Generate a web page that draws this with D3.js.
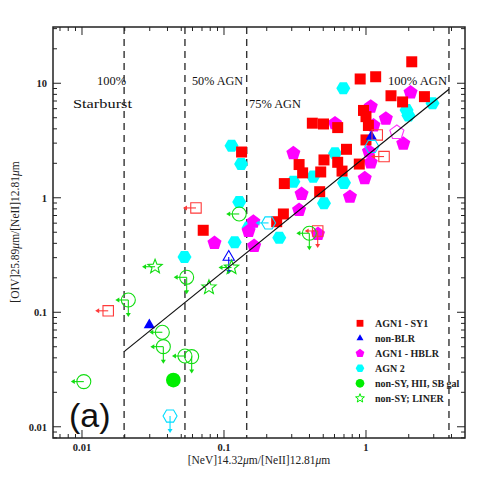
<!DOCTYPE html>
<html><head><meta charset="utf-8">
<script src="https://cdn.jsdelivr.net/npm/d3@7"></script>
<style>body{margin:0;background:#fff}</style>
</head><body><svg id="c" width="491" height="491"></svg>
<script>
// ---- data ----
const xTickLabels = [0.01, 0.1, 1];
const yTickLabels = [0.01, 0.1, 1, 10];
const xDomain = [0.00625, 4.98];
const yDomain = [0.00798, 31.0];
const agnFractionLines = [0.0198, 0.0531, 0.1445, 3.84];
const fitLine = [[0.0198, 0.0453], [3.84, 8.87]];

// AGN1 - SY1 (filled red squares)
const sy1 = [[2.10,15.4],[0.91,10.9],[1.17,11.4],[1.50,7.78],[1.81,6.87],[2.58,7.64],
  [0.96,5.79],[1.00,5.11],[1.04,4.28],[1.00,3.20],[0.419,4.48],[0.502,4.41],[0.632,4.10],
  [0.729,2.65],[0.338,1.95],[0.358,1.65],[0.506,2.14],[0.480,1.68],[0.632,2.04],[0.678,1.71],
  [0.897,1.97],[0.266,1.33],[0.472,1.13],[0.262,0.722],[0.235,0.618],[0.133,2.51],[0.0714,0.520]];
// SY1 limits (open red squares): [x, y, arrows]
const sy1Lim = [[0.0635,0.815,"l"],[0.0153,0.103,"l"],[1.20,3.54,""],[1.34,2.29,"l"],[0.457,0.513,"ld"]];
// non-BLR (blue triangles)
const nonBlr = [[1.09,3.43],[0.0298,0.0775]];
const nonBlrLim = [[0.108,0.304,"d"]];
// AGN1 - HBLR (magenta pentagons)
const hblr = [[2.06,8.31],[1.08,6.25],[1.38,4.91],[1.13,4.28],[1.83,2.97],[0.308,2.45],
  [0.605,4.47],[1.05,2.53],[1.08,2.03],[0.98,1.48],[0.771,1.02],[0.352,1.08],[0.338,0.782],
  [0.161,0.618],[0.149,0.513],[0.0857,0.403],[0.163,0.379],[0.459,0.483]];
const hblrLim = [[1.65,3.72,""]];
// AGN 2 (cyan hexagons)
const agn2 = [[0.692,9.04],[1.93,5.84],[1.99,5.23],[2.94,6.69],[0.605,2.45],[0.425,1.53],
  [0.308,1.38],[0.700,1.35],[0.506,0.895],[0.113,2.85],[0.132,1.97],[0.128,0.919],
  [0.0527,0.304],[0.119,0.409],[0.149,0.548],[0.245,0.448]];
const agn2Lim = [[0.206,0.603,"l"],[0.0417,0.0124,"d"],[1.10,2.81,""]];
// non-SY, HII, SB gal (green circles)
const hii = [[0.0440,0.0256]];
const hiiLim = [[0.128,0.722,"l"],[0.0212,0.128,"ld"],[0.0546,0.202,"ld"],[0.0368,0.0669,"l"],
  [0.0374,0.0501,"ld"],[0.0531,0.0415,"l"],[0.0592,0.0410,"d"],[0.0103,0.0248,"l"],[0.399,0.490,"ld"]];
// non-SY; LINER (open green stars)
const liner = [[0.0327,0.250,"l"],[0.0784,0.165,""],[0.113,0.246,"l"]];

const legendLabels = ["AGN1 - SY1","non-BLR","AGN1 - HBLR","AGN 2","non-SY, HII, SB gal","non-SY; LINER"];
const legendColors = ["#ff0000","#0000ff","#ff00ff","#00ffff","#00ee00","#00ee00"];
const legendShapes = ["square","triangle","pentagon","hexagon","circle","star"];

// ---- drawing ----
const svg = d3.select("#c");
const L=53, R=465, T=27, B=438;
const x = d3.scaleLog().domain(xDomain).range([L,R]);
const y = d3.scaleLog().domain(yDomain).range([B,T]);
const serif = "'Liberation Serif','Times New Roman',serif";

function poly(n, r, rot){
  const pts=[];
  for(let k=0;k<n;k++){const a=(rot+k*360/n)*Math.PI/180;pts.push([r*Math.cos(a),r*Math.sin(a)]);}
  return "M"+pts.map(p=>p[0].toFixed(2)+","+p[1].toFixed(2)).join("L")+"Z";
}
function star(ro, ri){
  const pts=[];
  for(let k=0;k<10;k++){const r=k%2?ri:ro;const a=(-90+k*36)*Math.PI/180;pts.push([r*Math.cos(a),r*Math.sin(a)]);}
  return "M"+pts.map(p=>p[0].toFixed(2)+","+p[1].toFixed(2)).join("L")+"Z";
}
function shapePath(s, k){
  k = k||1;
  switch(s){
    case "square": {const h=5.5*k;return `M${-h},${-h}H${h}V${h}H${-h}Z`;}
    case "triangle": return poly(3,6.5*k,-90);
    case "pentagon": return poly(5,7.4*k,-90);
    case "hexagon": return poly(6,7*k,0);
    case "circle": {const r=7*k;return `M${r},0A${r},${r} 0 1,1 ${-r},0A${r},${r} 0 1,1 ${r},0Z`;}
    case "star": return star(7.5*k,3.2*k);
  }
}

// dashed AGN fraction lines
svg.append("g").selectAll("line").data(agnFractionLines).join("line")
  .attr("x1",d=>x(d)).attr("x2",d=>x(d)).attr("y1",T).attr("y2",B)
  .attr("stroke","#333").attr("stroke-width",1.4).attr("stroke-dasharray","7,5");

// markers
const gm = svg.append("g");
function drawFilled(data, shape, color, k){
  gm.append("g").selectAll("path").data(data).join("path")
    .attr("transform",d=>`translate(${x(d[0])},${y(d[1])})`)
    .attr("d",shapePath(shape,k)).attr("fill",color).attr("stroke","none");
}
function arrows(g, data, color){
  data.forEach(d=>{
    const cx=x(d[0]), cy=y(d[1]);
    if(d[2].includes("l")){
      g.append("line").attr("x1",cx).attr("y1",cy).attr("x2",cx-11).attr("y2",cy).attr("stroke",color).attr("stroke-width",1.1);
      g.append("path").attr("d",`M${cx-13},${cy}L${cx-9},${cy-2.5}L${cx-9},${cy+2.5}Z`).attr("fill",color);
    }
    if(d[2].includes("d")){
      g.append("line").attr("x1",cx).attr("y1",cy).attr("x2",cx).attr("y2",cy+15).attr("stroke",color).attr("stroke-width",1.1);
      g.append("path").attr("d",`M${cx},${cy+17}L${cx-2.5},${cy+13}L${cx+2.5},${cy+13}Z`).attr("fill",color);
    }
  });
}
function drawOpen(data, shape, color, k){
  const g = gm.append("g");
  g.selectAll("path.m").data(data).join("path").attr("class","m")
    .attr("transform",d=>`translate(${x(d[0])},${y(d[1])})`)
    .attr("d",shapePath(shape,k)).attr("fill","none").attr("stroke",color).attr("stroke-width",1.1);
  arrows(g, data, color);
}

drawFilled(agn2,"hexagon","#00ffff");
drawFilled(hblr,"pentagon","#ff00ff");
drawFilled(sy1,"square","#ff0000");
drawFilled(nonBlr,"triangle","#0000ff");
drawOpen(sy1Lim,"square","#ff3a3a",0.95);
drawOpen(nonBlrLim,"triangle","#0000ff");
drawOpen(hblrLim,"pentagon","#ff33ff");
drawOpen(agn2Lim,"hexagon","#00ddff");
drawOpen(hiiLim,"circle","#11dd11");
drawFilled(hii,"circle","#00ee00",1.05);
drawOpen(liner,"star","#11dd11");

// fit line
svg.append("path").datum(fitLine)
  .attr("d",d3.line().x(d=>x(d[0])).y(d=>y(d[1])))
  .attr("stroke","#111").attr("stroke-width",1.2).attr("fill","none");

// frame
svg.append("rect").attr("x",L).attr("y",T).attr("width",R-L).attr("height",B-T)
  .attr("fill","none").attr("stroke","#222").attr("stroke-width",1.5);

// ticks
const tg = svg.append("g").attr("stroke","#222").attr("stroke-width",1);
const isMajor = t => Math.abs(Math.log10(t)-Math.round(Math.log10(t)))<1e-6;
x.ticks().forEach(t=>{
  const px=x(t), len=isMajor(t)?8:4;
  tg.append("line").attr("x1",px).attr("x2",px).attr("y1",B).attr("y2",B-len);
  tg.append("line").attr("x1",px).attr("x2",px).attr("y1",T).attr("y2",T+len);
});
y.ticks().forEach(t=>{
  const py=y(t), len=isMajor(t)?8:4;
  tg.append("line").attr("y1",py).attr("y2",py).attr("x1",L).attr("x2",L+len);
  tg.append("line").attr("y1",py).attr("y2",py).attr("x1",R).attr("x2",R-len);
});
const fmt = d3.format("~g");
svg.append("g").selectAll("text").data(xTickLabels).join("text")
  .attr("x",d=>x(d)).attr("y",451).attr("text-anchor","middle")
  .attr("font-family",serif).attr("font-size",10.5).attr("font-weight","bold").attr("fill","#222").text(d=>fmt(d));
svg.append("g").selectAll("text").data(yTickLabels).join("text")
  .attr("x",47).attr("y",d=>y(d)+4).attr("text-anchor","end")
  .attr("font-family",serif).attr("font-size",10.5).attr("font-weight","bold").attr("fill","#222").text(d=>fmt(d));

// axis labels
function axisLabel(g, a){
  const t = g.append("text").attr("font-family",serif).attr("font-size",11.5).attr("fill","#222");
  t.append("tspan").text(a);
  t.append("tspan").attr("font-style","italic").text("\u03bc");
  t.append("tspan").text("m/[NeII]12.81");
  t.append("tspan").attr("font-style","italic").text("\u03bc");
  t.append("tspan").text("m");
  return t;
}
axisLabel(svg,"[NeV]14.32").attr("x",259).attr("y",464).attr("text-anchor","middle");
axisLabel(svg.append("g").attr("transform","translate(19,232) rotate(-90)"),"[OIV]25.89")
  .attr("x",0).attr("y",0).attr("text-anchor","middle");

// region annotations
const ann = svg.append("g").attr("font-family",serif).attr("font-size",13).attr("fill","#111");
function annot(tx, px, py, w){
  ann.append("text").attr("x",px).attr("y",py).attr("textLength",w).attr("lengthAdjust","spacingAndGlyphs").text(tx);
}
annot("100%",97,85,29);
annot("Starburst",73,108,59);
annot("50% AGN",192,85,51);
annot("75% AGN",249,108,52);
annot("100% AGN",388,85,59);
svg.append("text").attr("x",69).attr("y",427).attr("font-family","'Liberation Sans',Arial,sans-serif")
  .attr("font-size",34).attr("fill","#111").text("(a)");

// legend
const lg = svg.append("g");
legendLabels.forEach((lab,i)=>{
  const yy = 323.3 + i*15;
  const open = legendShapes[i]==="star";
  lg.append("path").attr("transform",`translate(360,${yy})`).attr("d",shapePath(legendShapes[i],0.62))
    .attr("fill",open?"none":legendColors[i]).attr("stroke",open?legendColors[i]:"none").attr("stroke-width",1);
  lg.append("text").attr("x",375).attr("y",yy+3.5).attr("font-family",serif).attr("font-size",10)
    .attr("font-weight","bold").attr("fill","#222").text(lab);
});
</script></body></html>
